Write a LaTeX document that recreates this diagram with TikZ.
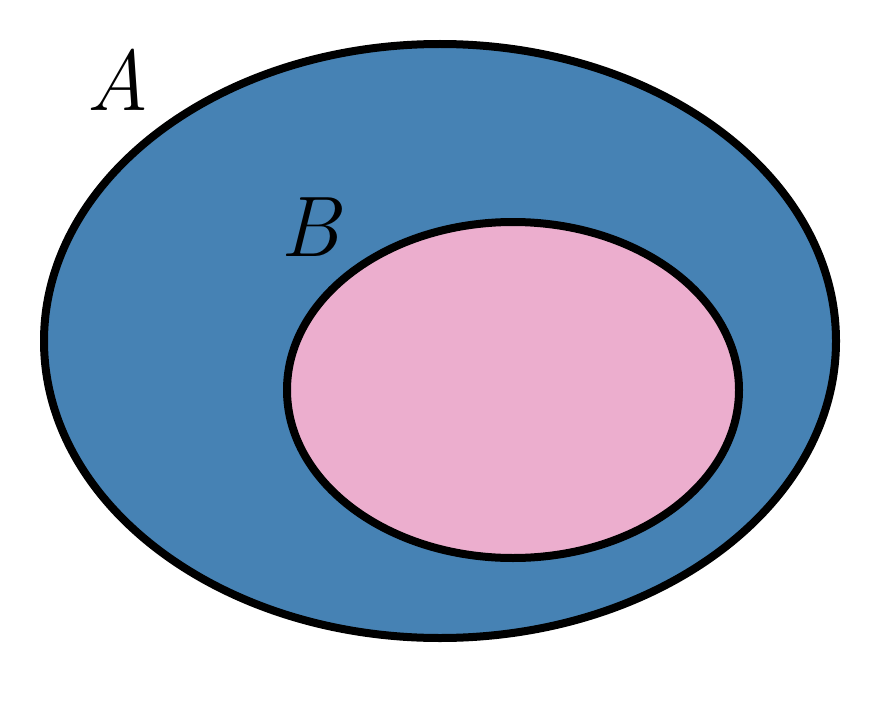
\documentclass[tikz,border=0pt]{standalone}
\begin{document}
\begin{tikzpicture}[x=1pt,y=-1pt,
  setline/.style={line width=8pt,draw=black},
  setlabel/.style={font=\fontsize{86}{86}\selectfont\itshape,inner sep=0pt,anchor=center}]
\definecolor{setblue}{RGB}{70,130,180}
\definecolor{setpink}{RGB}{236,174,206}
\useasboundingbox[fill=white] (0,0) rectangle (880,706);
\path[setline,fill=setblue] (440,341) ellipse [x radius=396, y radius=297];
\path[setline,fill=setpink] (513,390) ellipse [x radius=226, y radius=168];
\node[setlabel] (A) at (118,80) {A};
\node[setlabel] (B) at (310,227) {B};
\end{tikzpicture}
\end{document}
